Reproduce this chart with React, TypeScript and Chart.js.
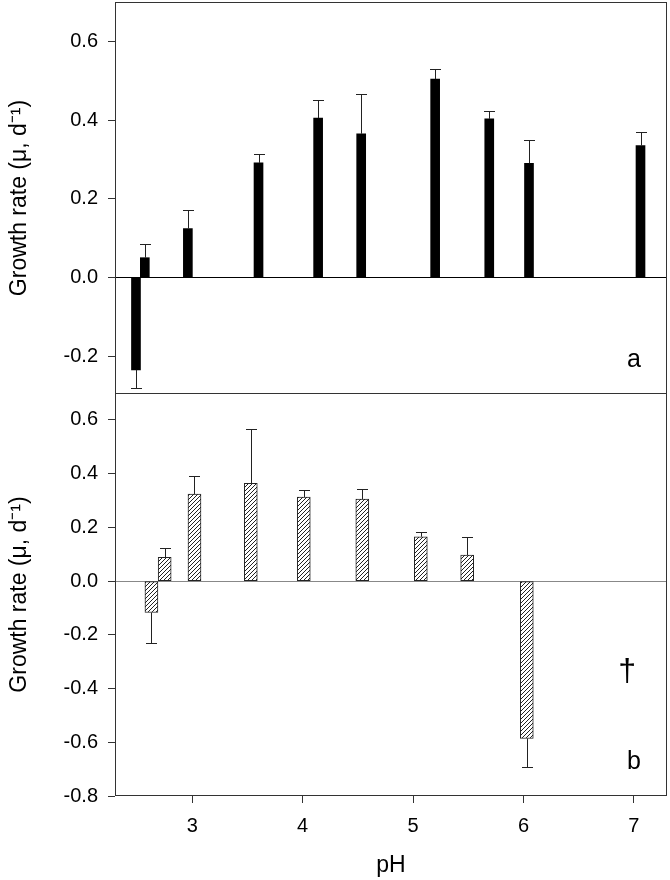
import React, { useEffect, useRef } from "react";
import { Chart, registerables } from "chart.js";

Chart.register(...registerables);

// ---- data ----
const phTop = [2.49, 2.57, 2.96, 3.6, 4.14, 4.53, 5.2, 5.69, 6.05, 7.06];
const rateTop = [-0.235, 0.05, 0.124, 0.291, 0.405, 0.365, 0.504, 0.403, 0.29, 0.335];
const errTop = [0.047, 0.036, 0.047, 0.023, 0.047, 0.102, 0.026, 0.021, 0.058, 0.034];

const phBottom = [2.63, 2.75, 3.02, 3.53, 4.01, 4.54, 5.07, 5.49, 6.03];
const rateBottom = [-0.117, 0.088, 0.324, 0.364, 0.313, 0.305, 0.165, 0.097, -0.586];
const errBottom = [0.115, 0.034, 0.068, 0.201, 0.025, 0.038, 0.019, 0.067, 0.106];

const xTicks = [3, 4, 5, 6, 7];
const yTicksTop = [-0.2, 0, 0.2, 0.4, 0.6];
const yTicksBottom = [-0.8, -0.6, -0.4, -0.2, 0, 0.2, 0.4, 0.6];

const xLabel = "pH";
const yLabel = "Growth rate (μ, d⁻¹)";
const panelLabels = ["a", "b"];
const daggerMark = { text: "†", ph: 6.94, y: -0.34 };

const FONT = "'Liberation Sans', Arial, Helvetica, sans-serif";
const AXIS_COLOR = "#333";

function makeHatch(): CanvasPattern | string {
  const s = 4;
  const c = document.createElement("canvas");
  c.width = s;
  c.height = s;
  const g = c.getContext("2d");
  if (!g) return "#fff";
  g.fillStyle = "#fff";
  g.fillRect(0, 0, s, s);
  g.strokeStyle = "#222";
  g.lineWidth = 1;
  g.beginPath();
  g.moveTo(0, s);
  g.lineTo(s, 0);
  g.moveTo(-1, 1);
  g.lineTo(1, -1);
  g.moveTo(s - 1, s + 1);
  g.lineTo(s + 1, s - 1);
  g.stroke();
  return g.createPattern(c, "repeat") || "#fff";
}

function errorBarPlugin(errs: number[], cap: number) {
  return {
    id: "errbars",
    afterDatasetsDraw(chart: any) {
      const meta = chart.getDatasetMeta(0);
      const ys = chart.scales.y;
      const ctx = chart.ctx;
      const data = chart.data.datasets[0].data as any[];
      ctx.save();
      ctx.strokeStyle = "#222";
      ctx.lineWidth = 1;
      meta.data.forEach((bar: any, i: number) => {
        const v = data[i].y;
        const end = v + Math.sign(v) * errs[i];
        const x = Math.round(bar.x) + 0.5;
        const y0 = ys.getPixelForValue(v);
        const y1 = Math.round(ys.getPixelForValue(end)) + 0.5;
        ctx.beginPath();
        ctx.moveTo(x, y0);
        ctx.lineTo(x, y1);
        ctx.moveTo(x - cap / 2, y1);
        ctx.lineTo(x + cap / 2, y1);
        ctx.stroke();
      });
      ctx.restore();
    },
  };
}

function framePlugin(label: string, dagger: boolean) {
  return {
    id: "frame",
    afterDraw(chart: any) {
      const { ctx, chartArea } = chart;
      const { left, right, top, bottom } = chartArea;
      ctx.save();
      ctx.strokeStyle = AXIS_COLOR;
      ctx.lineWidth = 1;
      ctx.strokeRect(Math.round(left) + 0.5, Math.round(top) + 0.5, Math.round(right - left) - 1, Math.round(bottom - top) - 1);
      ctx.fillStyle = "#000";
      ctx.font = `25px ${FONT}`;
      ctx.textAlign = "center";
      ctx.textBaseline = "alphabetic";
      ctx.fillText(label, right - 33, bottom - 27);
      if (dagger) {
        const xs = chart.scales.x;
        const ys = chart.scales.y;
        ctx.font = `32px ${FONT}`;
        ctx.textBaseline = "middle";
        ctx.fillText(daggerMark.text, xs.getPixelForValue(daggerMark.ph), ys.getPixelForValue(daggerMark.y));
      }
      ctx.restore();
    },
  };
}

function makeConfig(
  ph: number[],
  rate: number[],
  errs: number[],
  yMin: number,
  yTicks: number[],
  isBottom: boolean
): any {
  const thickness = isBottom ? 13 : 9;
  const zeroColor = isBottom ? "#888" : "#000";
  return {
    type: "bar",
    data: {
      datasets: [
        {
          data: ph.map((x, i) => ({ x, y: rate[i] })),
          backgroundColor: isBottom ? makeHatch() : "#000",
          borderColor: isBottom ? "#222" : "#000",
          borderWidth: isBottom ? 1 : 0,
          borderSkipped: false,
          barThickness: thickness,
        },
      ],
    },
    options: {
      responsive: false,
      animation: false,
      devicePixelRatio: 1,
      layout: {
        padding: isBottom ? { top: 5, right: 3, left: 0, bottom: 0 } : { top: 2, right: 3, left: 0, bottom: 1 },
      },
      plugins: {
        legend: { display: false },
        tooltip: { enabled: false },
        title: { display: false },
      },
      scales: {
        x: {
          type: "linear",
          min: 2.3,
          max: 7.3,
          offset: false,
          display: isBottom,
          afterBuildTicks: (s: any) => {
            s.ticks = xTicks.map((v) => ({ value: v }));
          },
          afterFit: (s: any) => {
            if (isBottom) s.height = 84;
            s.paddingLeft = 0;
            s.paddingRight = 0;
          },
          grid: {
            offset: false,
            drawOnChartArea: false,
            drawTicks: true,
            tickLength: 7,
            tickColor: AXIS_COLOR,
            color: AXIS_COLOR,
          },
          border: { display: false },
          ticks: {
            color: "#000",
            font: { family: FONT, size: 20 },
            padding: 11,
            maxRotation: 0,
            callback: (v: any) => String(v),
          },
          title: {
            display: true,
            text: xLabel,
            color: "#000",
            font: { family: FONT, size: 23 },
            padding: { top: 0, bottom: 1 },
          },
        },
        y: {
          type: "linear",
          min: yMin,
          max: 0.7,
          afterBuildTicks: (s: any) => {
            s.ticks = yTicks.map((v) => ({ value: v }));
          },
          afterFit: (s: any) => {
            s.width = 115;
            s.paddingTop = 0;
            s.paddingBottom = 0;
          },
          grid: {
            drawOnChartArea: true,
            drawTicks: true,
            tickLength: 7,
            tickColor: AXIS_COLOR,
            color: (c: any) => (c.tick && Math.abs(c.tick.value) < 1e-9 ? zeroColor : "rgba(0,0,0,0)"),
            lineWidth: 1,
          },
          border: { display: false },
          ticks: {
            color: "#000",
            font: { family: FONT, size: 20 },
            padding: 10,
            callback: (v: any) => Number(v).toFixed(1),
          },
          title: {
            display: true,
            text: yLabel,
            color: "#000",
            font: { family: FONT, size: 23 },
            padding: { top: 6, bottom: 0 },
          },
        },
      },
    },
    plugins: [errorBarPlugin(errs, 11), framePlugin(isBottom ? panelLabels[1] : panelLabels[0], isBottom)],
  };
}

export default function App() {
  const topRef = useRef<HTMLCanvasElement | null>(null);
  const bottomRef = useRef<HTMLCanvasElement | null>(null);

  useEffect(() => {
    const charts: Chart[] = [];
    if (topRef.current) {
      charts.push(new Chart(topRef.current, makeConfig(phTop, rateTop, errTop, -0.2965, yTicksTop, false)));
    }
    if (bottomRef.current) {
      charts.push(new Chart(bottomRef.current, makeConfig(phBottom, rateBottom, errBottom, -0.8, yTicksBottom, true)));
    }
    return () => charts.forEach((c) => c.destroy());
  }, []);

  return (
    <div style={{ position: "absolute", left: 0, top: 0, width: 670, height: 880, background: "#fff" }}>
      <canvas ref={bottomRef} width={670} height={492} style={{ position: "absolute", left: 0, top: 388, width: 670, height: 492 }} />
      <canvas ref={topRef} width={670} height={395} style={{ position: "absolute", left: 0, top: 0, width: 670, height: 395 }} />
    </div>
  );
}
